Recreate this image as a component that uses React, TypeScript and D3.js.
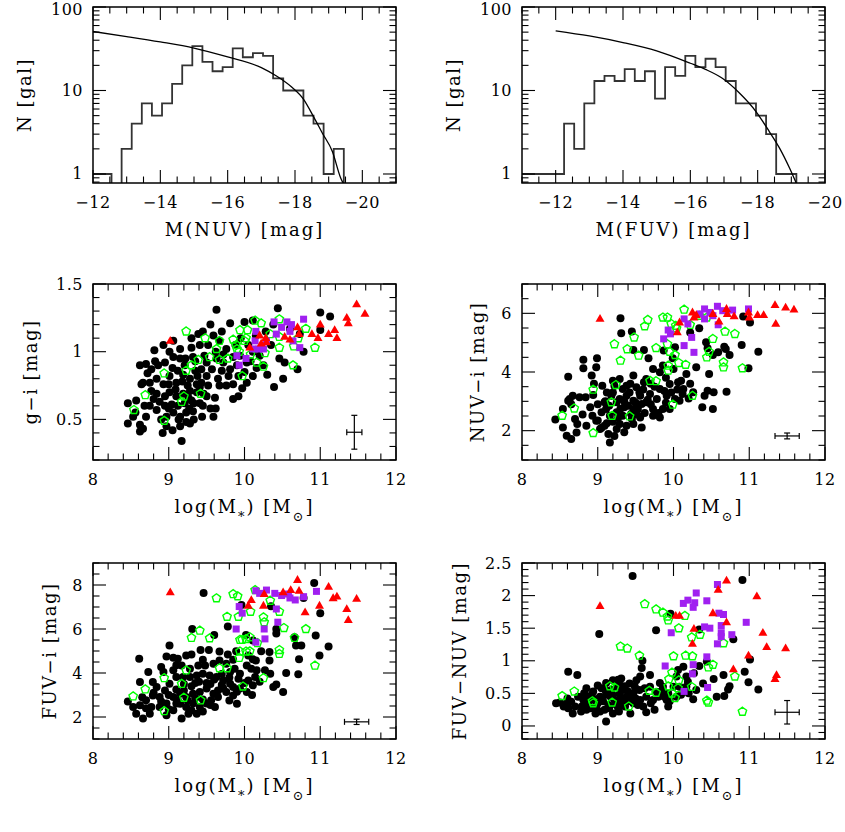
import React from 'react';
import * as d3 from 'd3';

// ---- histograms: bin centres (mag, bin 0.3) and counts ----
const nuvBinCentres = [-12.1, -12.4, -12.7, -13.0, -13.3, -13.6, -13.9, -14.2, -14.5, -14.8, -15.1, -15.4, -15.7, -16.0, -16.3, -16.6, -16.9, -17.2, -17.5, -17.8, -18.1, -18.4, -18.7, -19.0, -19.3];
const nuvCounts = [1, 1, 0, 2, 4, 7, 5, 7, 12, 20, 34, 22, 17, 19, 32, 25, 28, 26, 14, 10, 10, 5, 4, 1, 2];
const fuvBinCentres = [-10.9, -11.2, -11.5, -11.8, -12.1, -12.4, -12.7, -13.0, -13.3, -13.6, -13.9, -14.2, -14.5, -14.8, -15.1, -15.4, -15.7, -16.0, -16.3, -16.6, -16.9, -17.2, -17.5, -17.8, -18.1, -18.4, -18.7, -19.0];
const fuvCounts = [1, 1, 1, 1, 1, 4, 2, 7, 13, 15, 13, 18, 13, 17, 8, 19, 15, 26, 19, 24, 19, 13, 7, 7, 5, 3, 1, 1];
const binWidth = 0.3;

// fitted luminosity functions
const nuvFitMag = [-12, -13, -14, -15, -16, -17, -17.45, -17.9, -18.25, -18.57, -18.81, -19.11, -19.36, -19.45];
const nuvFitN = [50.9, 44.3, 38.2, 32.2, 25.2, 18.8, 14.9, 11.0, 7.9, 4.7, 3.1, 1.86, 0.89, 0.75];
const fuvFitMag = [-12, -13, -14, -15, -16, -16.45, -16.95, -17.45, -17.95, -18.35, -18.65, -18.95, -19.15];
const fuvFitN = [51.9, 45, 37.5, 29.8, 21.2, 17.9, 14, 9.4, 5.6, 3.2, 2.04, 1.17, 0.77];

// ---- scatter panels: [log M*, colour] ----
const giBlack = [[9.63,1.31],[10.44,1.32],[11.0,1.29],[11.13,1.26],[9.81,1.21],[10.11,1.23],[10.0,1.22],[9.45,1.15],[9.39,1.13],[9.59,1.12],[9.30,1.10],[9.06,1.08],[8.93,1.05],[8.81,1.01],[9.01,1.0],[9.15,1.02],[9.30,1.03],[9.41,1.05],[9.52,1.05],[9.67,1.08],[9.76,1.02],[10.38,1.2],[10.60,1.17],[10.73,1.13],[11.0,1.16],[10.78,1.0],[10.46,0.95],[10.53,0.92],[10.70,0.87],[10.51,0.80],[10.39,0.74],[10.25,0.90],[10.20,0.97],[10.11,1.0],[10.11,0.82],[10.03,0.77],[9.92,0.82],[9.92,0.67],[9.85,0.76],[9.76,0.75],[9.81,0.87],[9.72,0.92],[9.63,0.95],[9.65,0.80],[9.61,0.66],[9.59,0.52],[9.50,0.82],[9.43,0.87],[9.50,0.92],[9.32,0.96],[9.21,0.90],[9.15,0.95],[9.06,0.96],[8.95,0.92],[8.86,0.90],[8.77,0.87],[8.70,0.91],[8.62,0.90],[8.64,0.76],[8.75,0.77],[8.84,0.80],[8.93,0.76],[9.01,0.82],[9.10,0.77],[9.19,0.83],[9.28,0.80],[9.37,0.76],[9.43,0.77],[9.37,0.70],[9.28,0.71],[9.19,0.69],[9.10,0.67],[9.01,0.70],[8.95,0.67],[8.84,0.69],[8.77,0.71],[8.95,0.60],[9.04,0.61],[9.12,0.60],[9.21,0.62],[9.30,0.64],[9.41,0.62],[9.50,0.67],[9.06,0.55],[9.15,0.52],[9.23,0.55],[9.32,0.56],[9.23,0.48],[9.15,0.45],[9.17,0.34],[8.97,0.52],[8.97,0.45],[8.84,0.57],[8.75,0.60],[8.70,0.52],[8.62,0.46],[8.62,0.41],[8.66,0.43],[8.46,0.47],[8.46,0.62],[8.57,0.64],[8.53,0.52],[8.66,0.77],[9.85,0.65],[9.67,0.75],[9.41,0.74],[9.94,0.97],[9.85,0.96],[10.03,0.92],[9.95,1.1],[10.05,1.05],[10.15,1.12],[10.28,1.15],[10.35,1.05],[9.88,1.05],[9.7,1.15],[9.55,1.2],[9.47,0.97],[9.35,0.86],[9.25,0.75],[9.12,0.86],[9.0,0.76],[8.88,0.63],[9.33,0.5],[9.27,0.58],[9.55,0.58],[9.7,0.86],[9.05,0.88],[9.18,0.78],[9.26,0.66],[9.33,0.62],[9.38,0.82],[9.45,0.6],[9.52,0.75],[9.57,0.87],[9.62,1.0],[9.22,0.95],[9.09,0.72],[9.0,0.58],[8.9,0.5],[8.8,0.65],[8.72,0.84],[8.68,0.6],[9.13,0.5],[9.28,0.47],[9.35,0.93],[9.46,0.69],[9.72,0.98],[9.79,0.82],[9.9,0.9],[10.0,0.85],[10.08,0.93],[10.16,0.88],[10.3,0.83],[9.97,0.73],[9.62,0.58],[9.44,0.52],[9.05,0.42],[8.92,0.4],[8.56,0.55],[8.82,0.93]];
const giGreen = [[9.23,1.15],[9.48,1.10],[9.67,1.08],[9.63,1.02],[9.54,0.96],[9.67,0.94],[9.78,0.95],[9.39,0.94],[9.30,0.90],[9.23,0.86],[8.94,0.84],[8.69,0.68],[8.54,0.57],[8.94,0.49],[9.20,0.67],[9.17,0.63],[9.42,0.69],[9.85,1.09],[9.94,1.16],[10.04,1.16],[9.89,1.05],[9.90,1.02],[9.93,1.0],[10.0,1.08],[10.02,1.1],[10.08,0.98],[9.97,0.82],[10.14,1.23],[10.22,1.21],[10.27,0.99],[10.25,0.89],[10.16,0.92],[10.34,1.13],[10.46,1.24],[10.46,1.03],[10.46,1.11],[10.65,1.04],[10.71,1.10],[10.81,1.17],[10.64,0.9],[10.93,1.03]];
const giPurple = [[9.93,0.90],[9.90,0.97],[10.02,0.95],[10.15,1.15],[10.14,1.08],[10.25,1.02],[10.29,1.08],[10.39,1.22],[10.49,1.18],[10.56,1.22],[10.62,1.20],[10.60,1.15],[10.78,1.24],[10.64,1.08],[10.73,1.03],[10.42,1.13],[10.19,1.02],[10.11,1.02]];
const giRed = [[9.02,1.08],[10.07,1.03],[10.20,1.12],[10.28,1.10],[10.29,1.07],[10.22,1.06],[10.53,1.11],[10.60,1.09],[10.70,1.18],[10.72,1.13],[10.89,1.13],[10.97,1.10],[11.0,1.20],[11.11,1.13],[11.19,1.16],[11.22,1.10],[11.35,1.25],[11.37,1.21],[11.48,1.35],[11.59,1.28]];

const nuvBlack = [[9.30,5.83],[9.31,5.32],[9.45,5.38],[9.47,4.75],[9.61,4.75],[9.67,4.47],[9.87,4.73],[10.02,4.84],[9.99,4.47],[10.22,5.35],[10.34,5.49],[10.43,5.01],[10.45,4.81],[10.52,4.58],[10.59,4.67],[10.67,4.86],[10.69,4.78],[10.74,4.58],[10.90,4.92],[10.92,5.89],[11.01,5.69],[11.12,4.69],[10.99,4.13],[10.47,3.93],[10.45,3.36],[10.41,3.19],[10.53,3.31],[10.38,2.8],[10.52,2.74],[10.70,3.33],[8.61,3.84],[8.81,4.42],[8.81,4.13],[8.99,4.47],[8.98,4.16],[8.92,3.88],[9.06,3.53],[8.94,3.22],[8.84,3.14],[8.76,3.14],[8.67,3.19],[8.63,3.08],[8.61,3.02],[8.54,2.74],[8.44,2.38],[8.54,2.11],[8.59,1.83],[8.65,1.72],[8.73,2.23],[8.72,1.94],[8.85,2.17],[8.93,2.51],[8.98,2.34],[9.03,2.06],[9.09,2.17],[9.16,1.60],[9.14,1.89],[9.25,2.06],[9.29,2.23],[9.11,2.74],[9.18,3.19],[9.25,2.97],[9.29,3.76],[9.33,3.42],[9.38,3.19],[9.40,2.85],[9.44,2.57],[9.47,3.02],[9.51,3.48],[9.53,2.74],[9.56,3.19],[9.61,3.65],[9.64,2.97],[9.69,3.25],[9.73,2.74],[9.78,3.08],[9.82,3.42],[9.86,2.74],[9.91,3.19],[9.95,3.59],[10.02,3.08],[10.06,3.65],[10.13,3.42],[10.17,3.93],[10.26,3.31],[10.30,4.16],[10.0,4.10],[9.86,4.22],[9.73,4.10],[9.64,3.76],[9.47,3.88],[9.38,3.53],[9.22,3.53],[9.16,2.51],[9.25,2.63],[9.33,2.51],[9.38,2.17],[9.47,2.23],[9.58,2.11],[9.56,2.45],[9.73,2.51],[9.95,2.74],[9.09,2.97],[9.05,2.63],[9.29,3.08],[9.47,2.74],[9.58,2.91],[9.82,3.99],[10.08,3.02],[9.82,2.45],[9.2,2.3],[9.35,2.8],[9.55,3.3],[9.7,3.6],[9.9,3.8],[10.1,3.7],[9.0,2.9],[9.12,3.3],[9.42,3.3],[9.62,2.6],[10.2,3.1],[9.1,3.0],[9.15,2.85],[9.2,3.3],[9.27,2.45],[9.3,2.75],[9.35,3.0],[9.43,3.6],[9.5,2.95],[9.52,2.55],[9.6,3.4],[9.66,3.05],[9.7,2.9],[9.75,3.5],[9.8,2.6],[9.88,3.35],[9.9,2.95],[9.97,3.3],[10.05,3.4],[10.12,3.25],[10.22,3.6],[9.0,2.35],[8.9,2.8],[8.8,2.55],[8.7,2.4],[8.65,2.9],[8.95,3.6],[9.2,3.7],[9.05,2.1],[9.12,2.25],[9.35,1.95],[9.22,1.82],[9.45,2.4]];
const nuvGreen = [[9.22,4.95],[9.48,5.18],[9.39,4.78],[9.30,4.39],[9.62,5.56],[9.66,5.78],[9.54,4.56],[9.77,4.82],[9.86,5.86],[9.92,5.86],[9.97,5.64],[10.03,5.58],[10.14,6.13],[10.04,5.49],[9.92,4.95],[9.95,4.69],[10.02,4.58],[9.93,4.22],[9.93,4.05],[10.07,4.31],[10.16,4.25],[10.22,5.61],[10.34,5.92],[10.44,5.86],[10.52,5.13],[10.47,4.69],[10.44,4.50],[10.68,5.38],[10.81,5.30],[10.66,4.33],[10.66,4.16],[10.91,4.13],[9.69,3.70],[9.77,3.69],[9.24,3.56],[8.94,3.40],[8.69,2.76],[8.53,2.51],[9.18,2.97],[9.19,2.51],[9.42,2.49],[8.94,1.92],[9.99,2.89],[10.25,3.19]];
const nuvPurple = [[9.87,5.13],[9.93,5.43],[9.96,5.30],[10.14,5.81],[10.19,5.64],[10.14,4.90],[10.27,4.67],[10.24,5.18],[10.35,5.98],[10.41,6.15],[10.48,6.03],[10.58,6.24],[10.65,6.09],[10.78,6.11],[10.59,5.61],[10.99,6.15],[10.52,5.92],[10.41,5.81]];
const nuvRed = [[9.03,5.81],[10.05,5.35],[10.08,5.69],[10.25,6.03],[10.27,5.86],[10.30,5.94],[10.52,5.98],[10.60,5.72],[10.70,6.15],[10.71,5.98],[10.80,5.90],[10.99,6.03],[11.0,5.86],[11.11,5.94],[11.19,5.94],[11.34,6.28],[11.35,5.64],[11.48,6.20],[11.59,6.13]];

const fuvBlack = [[9.46,7.64],[9.96,7.09],[10.35,7.03],[10.92,8.09],[10.78,7.41],[11.0,6.72],[9.31,6.0],[9.60,5.73],[9.78,6.11],[10.02,5.73],[10.11,5.48],[10.42,6.0],[10.42,5.8],[10.94,5.70],[10.66,5.63],[10.68,5.25],[10.75,5.25],[10.99,4.80],[11.11,5.20],[10.72,4.62],[10.71,3.94],[10.55,4.0],[10.51,3.14],[10.42,3.48],[10.38,3.36],[10.33,4.57],[10.33,4.95],[10.22,4.99],[10.15,4.57],[10.11,4.62],[10.05,4.8],[9.89,4.99],[9.78,4.84],[9.67,4.98],[9.53,5.05],[9.42,5.05],[9.30,4.84],[9.23,4.8],[9.01,5.25],[8.97,4.75],[9.06,4.69],[9.12,4.65],[8.61,4.65],[8.73,4.04],[8.62,3.59],[8.79,3.59],[8.90,4.27],[8.93,4.04],[9.06,4.12],[9.17,4.34],[9.28,4.19],[9.39,4.34],[9.48,4.34],[9.59,4.42],[9.67,4.57],[9.76,4.42],[9.81,4.04],[9.87,4.19],[9.94,3.97],[10.03,4.34],[10.09,4.19],[10.16,4.12],[10.27,4.12],[10.34,3.97],[10.14,3.82],[10.05,3.66],[9.92,3.74],[9.81,3.51],[9.72,3.66],[9.63,3.82],[9.54,3.89],[9.45,3.97],[9.37,3.89],[9.28,3.82],[9.19,3.82],[9.10,3.82],[9.01,3.51],[8.95,3.21],[8.84,3.36],[8.79,2.98],[8.70,2.76],[8.62,2.53],[8.53,2.46],[8.46,2.71],[8.57,2.15],[8.66,1.93],[8.77,2.46],[8.88,2.91],[8.97,2.61],[9.06,2.31],[9.17,1.93],[8.97,2.08],[9.23,2.46],[9.32,3.06],[9.41,3.14],[9.50,3.29],[9.59,3.06],[9.61,2.46],[9.50,2.61],[9.41,2.46],[9.32,2.61],[9.23,2.91],[9.15,3.06],[9.06,2.91],[9.76,3.14],[9.85,2.98],[9.94,3.29],[10.03,3.14],[10.11,3.44],[9.85,3.36],[9.72,3.29],[9.65,2.91],[9.56,2.76],[9.37,2.15],[9.26,2.15],[9.10,2.61],[8.88,2.46],[8.75,2.15],[9.2,3.5],[9.35,3.55],[9.55,3.5],[9.7,3.95],[9.15,2.6],[9.45,2.8],[9.0,3.0],[9.1,3.25],[9.2,3.2],[9.3,3.4],[9.4,3.6],[9.5,3.55],[9.6,3.7],[9.7,3.45],[9.8,3.8],[9.9,3.15],[10.0,3.55],[10.2,3.6],[9.3,2.3],[9.45,2.25],[9.55,2.55],[8.9,2.7],[8.8,3.1],[8.65,2.9],[8.7,2.4],[9.0,2.35],[9.12,2.75],[9.25,2.75],[9.35,2.85],[9.65,3.2],[9.8,2.75],[9.9,2.6],[10.1,3.0],[9.1,4.35],[9.45,4.6],[9.85,4.6]];
const fuvGreen = [[9.63,7.40],[9.85,7.59],[9.91,7.49],[9.77,6.56],[9.92,6.56],[10.14,7.77],[10.08,6.79],[10.34,7.29],[10.46,6.79],[10.25,6.53],[10.26,6.31],[9.41,5.93],[9.30,5.60],[9.54,5.58],[9.94,5.51],[9.97,5.51],[10.02,5.55],[10.07,5.63],[10.17,5.36],[10.52,6.05],[10.81,6.0],[10.66,5.60],[9.94,4.98],[10.02,4.98],[10.07,4.99],[10.46,5.05],[10.46,4.87],[9.93,4.69],[10.93,4.34],[9.67,4.22],[9.77,4.22],[9.23,4.12],[8.94,3.77],[9.17,3.51],[8.69,3.26],[8.53,2.94],[9.20,2.88],[9.42,2.76],[8.94,2.27],[9.98,3.39],[10.25,3.77]];
const fuvPurple = [[9.93,7.02],[9.97,6.72],[9.89,6.0],[10.15,7.74],[10.20,7.62],[10.29,7.77],[10.40,7.62],[10.49,7.52],[10.58,7.59],[10.60,7.41],[10.67,7.32],[10.78,7.47],[10.95,7.71],[10.42,6.91],[10.44,6.31],[10.26,6.0],[10.27,5.55],[10.15,5.40]];
const fuvRed = [[9.02,7.67],[10.05,7.06],[10.09,7.32],[10.26,7.59],[10.25,7.06],[10.51,7.67],[10.61,7.77],[10.70,8.23],[10.72,7.74],[10.80,6.76],[10.99,7.06],[11.11,7.92],[11.17,7.4],[11.22,7.47],[11.35,6.91],[11.37,6.41],[11.48,7.37]];

const fnBlack = [[9.46,2.30],[10.91,2.24],[9.02,1.41],[9.77,1.47],[9.96,1.72],[10.79,1.33],[10.34,1.48],[11.01,1.02],[10.94,0.83],[10.99,0.67],[11.12,0.56],[9.59,1.0],[9.58,0.89],[9.69,0.78],[10.34,0.92],[10.44,0.99],[10.66,0.78],[10.74,0.61],[10.72,0.56],[10.67,0.46],[10.53,0.72],[10.57,0.45],[10.39,0.65],[10.26,0.41],[10.27,0.81],[10.13,0.91],[10.06,0.86],[10.04,0.76],[10.08,0.60],[10.17,0.60],[10.04,0.45],[9.91,0.40],[9.93,0.30],[9.84,0.53],[9.82,0.66],[9.75,0.25],[9.64,0.21],[9.56,0.40],[9.53,0.32],[9.56,0.76],[9.49,0.60],[9.47,0.50],[9.38,0.45],[9.33,0.55],[9.31,0.73],[9.25,0.60],[9.17,0.45],[9.14,0.32],[9.09,0.25],[9.11,0.07],[9.03,0.45],[8.98,0.30],[8.97,0.19],[8.92,0.48],[8.87,0.35],[8.85,0.25],[8.79,0.30],[8.74,0.45],[8.65,0.37],[8.61,0.27],[8.67,0.19],[8.59,0.35],[8.50,0.36],[8.45,0.35],[8.73,0.78],[8.61,0.83],[9.18,0.55],[9.20,0.19],[9.27,0.27],[9.36,0.30],[9.43,0.19],[9.47,0.35],[9.29,0.40],[9.40,0.53],[9.11,0.48],[9.05,0.58],[9.22,0.40],[8.87,0.45],[8.81,0.40],[8.94,0.53],[8.98,0.41],[9.73,0.40],[9.80,0.45],[9.69,0.60],[9.64,0.45],[9.86,0.60],[10.0,0.60],[9.93,0.50],[10.17,0.76],[10.19,0.68],[9.36,0.61],[9.11,0.66],[9.29,0.49],[9.51,0.70],[9.27,0.71],[8.55,0.3],[8.6,0.42],[8.7,0.3],[8.78,0.22],[8.82,0.5],[8.9,0.27],[8.95,0.4],[9.0,0.35],[9.03,0.22],[9.07,0.38],[9.1,0.55],[9.15,0.27],[9.2,0.47],[9.24,0.33],[9.28,0.22],[9.32,0.35],[9.35,0.42],[9.4,0.38],[9.44,0.45],[9.5,0.42],[9.55,0.55],[9.6,0.3],[9.62,0.58],[9.7,0.35],[9.78,0.52],[9.88,0.45],[9.95,0.38],[10.1,0.48],[10.2,0.5],[10.3,0.55],[9.42,0.65],[9.2,0.7],[9.0,0.62],[8.85,0.58],[9.3,0.62]];
const fnGreen = [[9.62,1.87],[9.77,1.79],[9.86,1.74],[9.92,1.68],[9.93,1.62],[10.15,1.69],[10.07,1.5],[10.24,1.36],[10.35,1.40],[10.66,1.27],[9.30,1.22],[9.39,1.19],[9.55,1.08],[10.0,1.07],[10.16,1.08],[10.25,1.07],[9.98,0.82],[10.52,0.94],[10.46,0.9],[10.81,0.76],[9.94,0.72],[9.93,0.61],[10.07,0.70],[10.06,0.58],[10.24,0.60],[9.98,0.50],[10.02,0.43],[9.68,0.54],[9.77,0.51],[9.16,0.61],[9.22,0.59],[8.69,0.53],[8.53,0.46],[8.93,0.38],[8.94,0.35],[9.19,0.36],[9.41,0.30],[10.44,0.39],[10.46,0.36],[10.91,0.22]];
const fnPurple = [[9.97,1.43],[9.89,0.92],[10.13,1.88],[10.19,1.93],[10.30,2.04],[10.28,1.89],[10.26,1.82],[10.44,1.92],[10.41,1.52],[10.48,1.5],[10.58,2.17],[10.60,1.73],[10.66,1.71],[10.63,1.54],[10.63,1.43],[10.63,1.37],[10.58,1.26],[10.77,1.40],[10.96,1.59],[10.25,0.80],[10.26,0.94],[10.44,1.06],[10.45,0.59],[10.14,0.53]];
const fnRed = [[9.03,1.84],[10.03,1.69],[10.08,1.69],[10.27,1.49],[10.25,1.26],[10.52,1.73],[10.59,2.09],[10.70,2.23],[10.70,1.59],[10.79,0.87],[10.99,1.08],[11.10,1.99],[11.18,1.43],[11.23,1.21],[11.36,0.78],[11.34,0.72],[11.48,1.19]];

// typical error bars: [x, y, xerr, yerr]
const giErr = [11.45, 0.405, 0.1, 0.125];
const nuvErr = [11.5, 1.82, 0.16, 0.1];
const fuvErr = [11.48, 1.78, 0.16, 0.12];
const fnErr = [11.5, 0.21, 0.16, 0.18];

const FONT = 'DejaVu Serif, Liberation Serif, serif';
const COLS = [93, 522];
const ROWS = [7, 284, 563];
const PW = 303;
const PH = 176;
const MAJ = 13;
const MIN = 6.5;

const fmt = (v: number) => (v < 0 ? '\u2212' + Math.abs(v) : String(v));

function Frame({ x, y, xs, ys, xMaj, xMin, yMaj, yMin, xLab, yLab, yTitle, yTitleX, xTitle }: any) {
  const left = x, right = x + PW, top = y, bottom = y + PH;
  const ticks: JSX.Element[] = [];
  xMaj.forEach((v: number, i: number) => {
    const px = xs(v);
    ticks.push(<line key={'xb' + i} x1={px} x2={px} y1={bottom} y2={bottom - MAJ} />);
    ticks.push(<line key={'xt' + i} x1={px} x2={px} y1={top} y2={top + MAJ} />);
  });
  xMin.forEach((v: number, i: number) => {
    const px = xs(v);
    ticks.push(<line key={'xmb' + i} x1={px} x2={px} y1={bottom} y2={bottom - MIN} />);
    ticks.push(<line key={'xmt' + i} x1={px} x2={px} y1={top} y2={top + MIN} />);
  });
  yMaj.forEach((v: number, i: number) => {
    const py = ys(v);
    ticks.push(<line key={'yl' + i} x1={left} x2={left + MAJ} y1={py} y2={py} />);
    ticks.push(<line key={'yr' + i} x1={right} x2={right - MAJ} y1={py} y2={py} />);
  });
  yMin.forEach((v: number, i: number) => {
    const py = ys(v);
    ticks.push(<line key={'yml' + i} x1={left} x2={left + MIN} y1={py} y2={py} />);
    ticks.push(<line key={'ymr' + i} x1={right} x2={right - MIN} y1={py} y2={py} />);
  });
  return (
    <g>
      <g stroke="#000" strokeWidth={1.1}>{ticks}</g>
      <rect x={left} y={top} width={PW} height={PH} fill="none" stroke="#000" strokeWidth={1.5} />
      <g fontFamily={FONT} fontSize={16} fill="#000">
        {xLab.map((v: number, i: number) => (
          <text key={'xl' + i} x={xs(v)} y={bottom + 25} textAnchor="middle" letterSpacing={0.5}>{fmt(v)}</text>
        ))}
        {yLab.map((v: number, i: number) => (
          <text key={'ylab' + i} x={left - 10} y={Math.max(ys(v) + 5.5, 15)} textAnchor="end" letterSpacing={0.5}>{fmt(v)}</text>
        ))}
      </g>
      <g fontFamily={FONT} fontSize={18} fill="#000">
        <text x={left + PW / 2} y={bottom + 53} textAnchor="middle" letterSpacing={2}>{xTitle}</text>
        <text transform={`translate(${yTitleX},${top + PH / 2}) rotate(-90)`} textAnchor="middle" letterSpacing={1.5}>{yTitle}</text>
      </g>
    </g>
  );
}

const massTitle = (
  <>log(M<tspan baselineShift="sub" fontSize={13}>*</tspan>) [M<tspan baselineShift="sub" fontSize={13}>⊙</tspan>]</>
);

function Histogram({ col, centres, counts, fitMag, fitN, xDomain, xTitle, yTitleX, id }: any) {
  const x0 = COLS[col], y0 = ROWS[0];
  const xs = d3.scaleLinear().domain(xDomain).range([x0, x0 + PW]);
  const ys = d3.scaleLog().domain([0.78, 100]).range([y0 + PH, y0]);
  const yb = y0 + PH + 2;
  const yOf = (c: number) => (c > 0 ? ys(c) : yb);
  let d = `M${xs(centres[0] + binWidth / 2)},${yb}`;
  centres.forEach((c: number, i: number) => {
    const a = xs(c + binWidth / 2), b = xs(c - binWidth / 2);
    d += `L${a},${yOf(counts[i])}L${b},${yOf(counts[i])}`;
  });
  d += `L${xs(centres[centres.length - 1] - binWidth / 2)},${yb}`;
  const line = d3.line<number>().x((_, i) => xs(fitMag[i])).y(v => ys(v)).curve(d3.curveMonotoneX);
  const [lo, hi] = xDomain;
  const xMaj = [-12, -14, -16, -18, -20].filter(v => v <= lo && v >= hi);
  const xMin = d3.range(-21, -10.99, 0.5).filter(v => v <= lo && v >= hi && !xMaj.includes(v));
  const yMin = [0.8, 0.9, 2, 3, 4, 5, 6, 7, 8, 9, 20, 30, 40, 50, 60, 70, 80, 90];
  return (
    <g>
      <clipPath id={id}><rect x={x0} y={y0} width={PW} height={PH} /></clipPath>
      <g clipPath={`url(#${id})`} fill="none">
        <path d={d} stroke="#333" strokeWidth={1.8} />
        <path d={line(fitN) || ''} stroke="#000" strokeWidth={1.3} />
      </g>
      <Frame x={x0} y={y0} xs={xs} ys={ys} xMaj={xMaj} xMin={xMin} yMaj={[1, 10, 100]} yMin={yMin}
        xLab={xMaj} yLab={[1, 10, 100]} xTitle={xTitle} yTitle="N [gal]" yTitleX={yTitleX} />
    </g>
  );
}

function pentagon(r: number) {
  const pts = d3.range(5).map(k => {
    const a = -Math.PI / 2 + (k * 2 * Math.PI) / 5;
    return [r * Math.cos(a), r * Math.sin(a)];
  });
  return 'M' + pts.map(p => p.join(',')).join('L') + 'Z';
}
function triangle(s: number) {
  const h = (s * Math.sqrt(3)) / 2;
  return `M0,${-h * 0.62}L${s / 2},${h * 0.38}L${-s / 2},${h * 0.38}Z`;
}

function Scatter({ col, row, yDomain, yMaj, yMinStep, yLab, yTitle, yTitleX, black, green, purple, red, err, id }: any) {
  const x0 = COLS[col], y0 = ROWS[row];
  const xs = d3.scaleLinear().domain([8, 12]).range([x0, x0 + PW]);
  const ys = d3.scaleLinear().domain(yDomain).range([y0 + PH, y0]);
  const yMin = d3.range(yDomain[0], yDomain[1] + 1e-6, yMinStep)
    .map(v => Math.round(v * 100) / 100)
    .filter(v => !yMaj.some((m: number) => Math.abs(m - v) < 1e-6));
  const xMin = d3.range(8, 12.001, 0.2).map(v => Math.round(v * 10) / 10).filter(v => v % 1 !== 0);
  const pent = pentagon(4.4);
  const tri = triangle(9);
  const [ex, ey, dx, dy] = err;
  const cap = 3;
  return (
    <g>
      <clipPath id={id}><rect x={x0} y={y0} width={PW} height={PH} /></clipPath>
      <g clipPath={`url(#${id})`}>
        {black.map((p: number[], i: number) => (
          <circle key={'b' + i} cx={xs(p[0])} cy={ys(p[1])} r={4} fill="#000" />
        ))}
        {green.map((p: number[], i: number) => (
          <path key={'g' + i} d={pent} transform={`translate(${xs(p[0])},${ys(p[1])})`} fill="none" stroke="#00ff00" strokeWidth={1.4} />
        ))}
        {purple.map((p: number[], i: number) => (
          <rect key={'p' + i} x={xs(p[0]) - 3.5} y={ys(p[1]) - 3.5} width={7} height={7} fill="#a020f0" />
        ))}
        {red.map((p: number[], i: number) => (
          <path key={'r' + i} d={tri} transform={`translate(${xs(p[0])},${ys(p[1])})`} fill="#ff0000" />
        ))}
        <g stroke="#000" strokeWidth={1.2}>
          <line x1={xs(ex - dx)} x2={xs(ex + dx)} y1={ys(ey)} y2={ys(ey)} />
          <line x1={xs(ex)} x2={xs(ex)} y1={ys(ey - dy)} y2={ys(ey + dy)} />
          <line x1={xs(ex - dx)} x2={xs(ex - dx)} y1={ys(ey) - cap} y2={ys(ey) + cap} />
          <line x1={xs(ex + dx)} x2={xs(ex + dx)} y1={ys(ey) - cap} y2={ys(ey) + cap} />
          <line x1={xs(ex) - cap} x2={xs(ex) + cap} y1={ys(ey - dy)} y2={ys(ey - dy)} />
          <line x1={xs(ex) - cap} x2={xs(ex) + cap} y1={ys(ey + dy)} y2={ys(ey + dy)} />
        </g>
      </g>
      <Frame x={x0} y={y0} xs={xs} ys={ys} xMaj={[8, 9, 10, 11, 12]} xMin={xMin} yMaj={yMaj} yMin={yMin}
        xLab={[8, 9, 10, 11, 12]} yLab={yLab} xTitle={massTitle} yTitle={yTitle} yTitleX={yTitleX} />
    </g>
  );
}

export default function App() {
  return (
    <svg width={845} height={832} style={{ position: 'absolute', left: 0, top: 0, background: '#fff' }}>
      <rect width={845} height={832} fill="#fff" />
      <Histogram id="h1" col={0} centres={nuvBinCentres} counts={nuvCounts} fitMag={nuvFitMag} fitN={nuvFitN}
        xDomain={[-12, -21]} xTitle="M(NUV) [mag]" yTitleX={31} />
      <Histogram id="h2" col={1} centres={fuvBinCentres} counts={fuvCounts} fitMag={fuvFitMag} fitN={fuvFitN}
        xDomain={[-11, -20]} xTitle="M(FUV) [mag]" yTitleX={460} />
      <Scatter id="s1" col={0} row={1} yDomain={[0.2, 1.5]} yMaj={[0.5, 1, 1.5]} yMinStep={0.1} yLab={[0.5, 1, 1.5]}
        yTitle={'g\u2212i [mag]'} yTitleX={37} black={giBlack} green={giGreen} purple={giPurple} red={giRed} err={giErr} />
      <Scatter id="s2" col={1} row={1} yDomain={[1, 7]} yMaj={[2, 4, 6]} yMinStep={0.5} yLab={[2, 4, 6]}
        yTitle={'NUV\u2212i [mag]'} yTitleX={484} black={nuvBlack} green={nuvGreen} purple={nuvPurple} red={nuvRed} err={nuvErr} />
      <Scatter id="s3" col={0} row={2} yDomain={[1, 9]} yMaj={[2, 4, 6, 8]} yMinStep={0.5} yLab={[2, 4, 6, 8]}
        yTitle={'FUV\u2212i [mag]'} yTitleX={56} black={fuvBlack} green={fuvGreen} purple={fuvPurple} red={fuvRed} err={fuvErr} />
      <Scatter id="s4" col={1} row={2} yDomain={[-0.2, 2.5]} yMaj={[0, 0.5, 1, 1.5, 2, 2.5]} yMinStep={0.1} yLab={[0, 0.5, 1, 1.5, 2, 2.5]}
        yTitle={'FUV\u2212NUV [mag]'} yTitleX={466} black={fnBlack} green={fnGreen} purple={fnPurple} red={fnRed} err={fnErr} />
    </svg>
  );
}
